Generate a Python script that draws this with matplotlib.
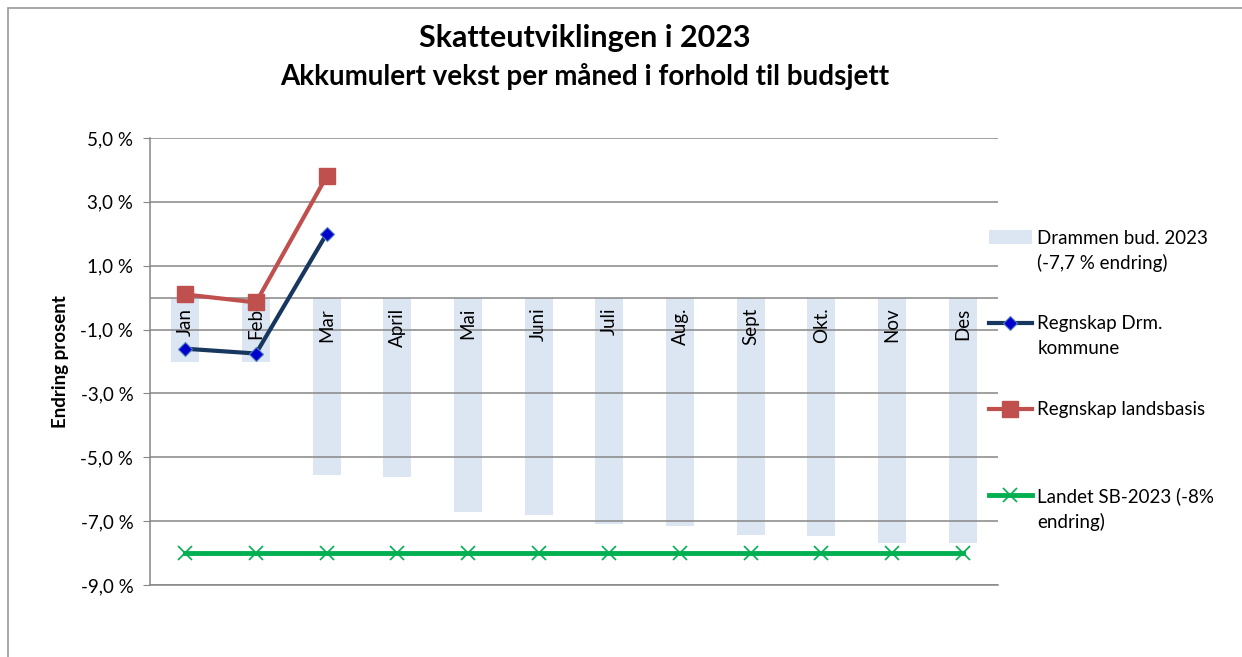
import numpy as np
import matplotlib.pyplot as plt
from matplotlib.patches import Rectangle
from matplotlib.ticker import FuncFormatter

plt.rcParams['font.family'] = ['Lato', 'DejaVu Sans']

months = ['Jan', 'Feb', 'Mar', 'April', 'Mai', 'Juni', 'Juli', 'Aug.', 'Sept', 'Okt.', 'Nov', 'Des']
budsjett = [-2.0, -2.0, -5.55, -5.62, -6.72, -6.8, -7.1, -7.15, -7.43, -7.47, -7.7, -7.7]
drm = [-1.6, -1.75, 2.0]
landsbasis = [0.1, -0.15, 3.8]
landet = [-8.0] * 12

leg_first = ['Drammen bud. 2023', 'Regnskap Drm.', 'Regnskap landsbasis', 'Landet SB-2023 (-8%']
leg_second = ['(-7,7 % endring)', 'kommune', '', 'endring)']

x = np.arange(len(months))

fig = plt.figure(figsize=(12.42, 6.57), dpi=100)
ax = fig.add_axes([150 / 1242, 1 - 585 / 657, 848 / 1242, 447 / 657])

# ramme rundt hele figuren
fig.patches.append(Rectangle((8 / 1242, -0.05), 1.0, 1 - 8 / 657 + 0.05,
                             transform=fig.transFigure, fill=False,
                             edgecolor='#9a9a9a', linewidth=1.2))

h_bar = ax.bar(x, budsjett, width=0.4, color='#dce6f2', zorder=0.3)
h_drm, = ax.plot(x[:3], drm, color='#17375e', linewidth=3, marker='D', markersize=7,
                 markerfacecolor='#0000cc', markeredgecolor='#4f81bd', markeredgewidth=0.8,
                 zorder=3)
h_land, = ax.plot(x[:3], landsbasis, color='#c0504d', linewidth=3, marker='s', markersize=11,
                  zorder=3)
h_sb, = ax.plot(x, landet, color='#00b050', linewidth=3.5, marker='x', markersize=10,
                markeredgewidth=1.2, zorder=3)

ax.set_xlim(-0.5, 11.5)
ax.set_ylim(-9, 5)
ax.set_yticks(np.arange(-9, 6, 2))
ax.yaxis.set_major_formatter(FuncFormatter(lambda v, p: f'{v:.1f} %'.replace('.', ',')))
ax.set_axisbelow(True)
ax.grid(axis='y', color='#868686', linewidth=1.1)
ax.axhline(0, color='#868686', linewidth=1.1, zorder=0.5)
ax.tick_params(axis='y', length=5, color='#868686', labelsize=13.5, pad=7)
ax.set_xticks([])
for s in ['top', 'right']:
    ax.spines[s].set_visible(False)
for s in ['left', 'bottom']:
    ax.spines[s].set_color('#868686')
    ax.spines[s].set_linewidth(1.1)

# kategorinavn under nullinjen
for xi, m in zip(x, months):
    ax.text(xi, -0.32, m, rotation=90, ha='center', va='top', fontsize=13.5)

ax.set_ylabel('Endring prosent', fontsize=13.5, fontweight='bold', labelpad=8)

fig.text(585 / 1242, 1 - 38 / 657, 'Skatteutviklingen i 2023', ha='center', va='center',
         fontsize=22, fontweight='bold')
fig.text(585 / 1242, 1 - 76 / 657, 'Akkumulert vekst per måned i forhold til budsjett',
         ha='center', va='center', fontsize=20, fontweight='bold')

leg = ax.legend([h_bar, h_drm, h_land, h_sb], leg_first, loc='upper left',
                bbox_to_anchor=(981 / 1242, 1 - 222 / 657),
                bbox_transform=fig.transFigure, frameon=False, fontsize=13.5,
                labelspacing=3.67, handlelength=2.3, handletextpad=0.3, borderaxespad=0)
for t, s in zip(leg.get_texts(), leg_second):
    if s:
        ax.annotate(s, xy=(0, 0), xycoords=t, xytext=(0, -5.5), textcoords='offset points',
                    ha='left', va='top', fontsize=13.5, annotation_clip=False, zorder=10)

fig.savefig('out.png', dpi=100)
